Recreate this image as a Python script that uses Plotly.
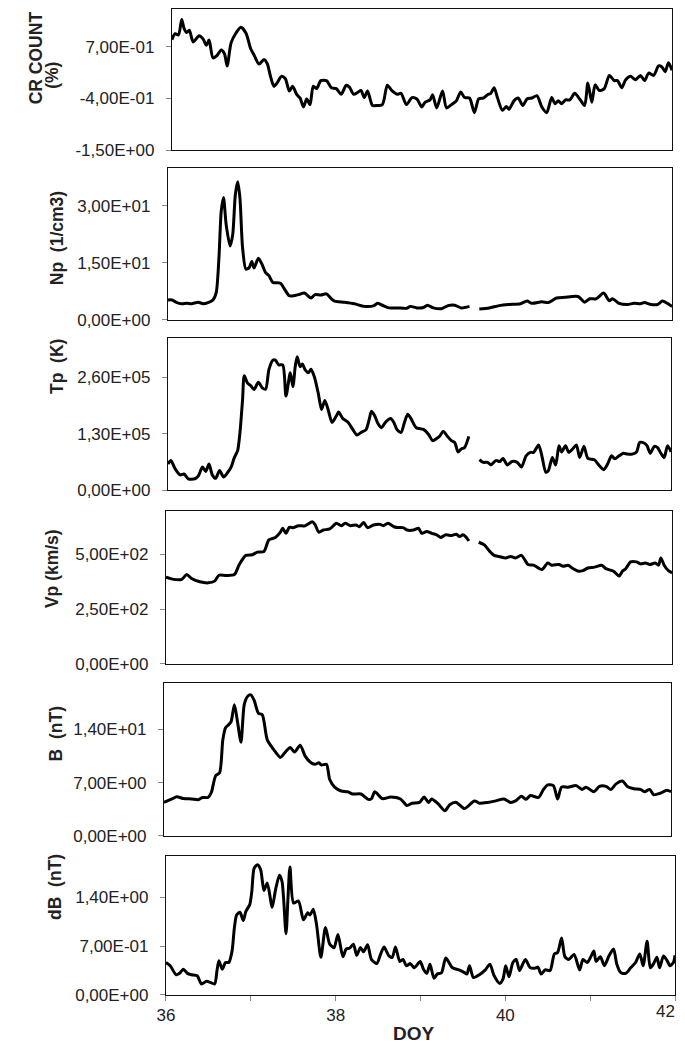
import plotly.graph_objects as go

# ---------------- data (DOY, value) ----------------
cr_doy = [36.000, 36.039, 36.079, 36.118, 36.146, 36.178, 36.209, 36.256, 36.327, 36.375, 36.414, 36.446, 36.493, 36.540, 36.592, 36.631, 36.663, 36.710, 36.769, 36.828, 36.888, 36.947, 36.986, 37.045, 37.105, 37.144, 37.183, 37.223, 37.262, 37.314, 37.361, 37.408, 37.448, 37.499, 37.538, 37.578, 37.617, 37.657, 37.696, 37.736, 37.787, 37.854, 37.913, 37.972, 38.032, 38.091, 38.130, 38.181, 38.229, 38.268, 38.308, 38.347, 38.406, 38.446, 38.525, 38.584, 38.643, 38.702, 38.749, 38.813, 38.880, 38.939, 38.998, 39.037, 39.097, 39.128, 39.176, 39.247, 39.294, 39.353, 39.412, 39.464, 39.511, 39.570, 39.629, 39.680, 39.736, 39.787, 39.826, 39.866, 39.905, 39.964, 40.012, 40.043, 40.103, 40.154, 40.209, 40.260, 40.320, 40.379, 40.438, 40.497, 40.556, 40.596, 40.635, 40.675, 40.722, 40.773, 40.832, 40.892, 40.951, 40.990, 41.037, 41.077, 41.128, 41.187, 41.247, 41.306, 41.345, 41.396, 41.444, 41.503, 41.562, 41.621, 41.669, 41.720, 41.779, 41.838, 41.878, 41.917, 41.957, 42.000]
cr_val = [0.85, 0.975, 0.95, 1.275, 1.09, 1.0, 1.05, 0.80, 0.93, 0.86, 0.73, 0.84, 0.46, 0.51, 0.63, 0.55, 0.29, 0.78, 0.99, 1.11, 0.99, 0.65, 0.52, 0.33, 0.43, 0.34, 0.07, -0.14, -0.07, 0.07, 0.02, -0.24, -0.14, -0.32, -0.39, -0.58, -0.41, -0.53, -0.14, -0.19, -0.02, -0.02, -0.17, -0.19, -0.31, -0.12, -0.16, -0.31, -0.27, -0.23, -0.38, -0.24, -0.55, -0.55, -0.53, -0.12, -0.24, -0.31, -0.29, -0.53, -0.38, -0.41, -0.58, -0.48, -0.43, -0.32, -0.60, -0.24, -0.60, -0.53, -0.45, -0.26, -0.38, -0.39, -0.70, -0.41, -0.39, -0.32, -0.29, -0.17, -0.38, -0.65, -0.57, -0.63, -0.45, -0.39, -0.55, -0.41, -0.39, -0.34, -0.58, -0.70, -0.38, -0.51, -0.45, -0.51, -0.43, -0.43, -0.29, -0.41, -0.55, -0.07, -0.48, -0.11, -0.23, -0.19, 0.09, -0.02, -0.02, -0.17, 0.0, 0.07, 0.0, 0.09, -0.02, 0.14, 0.09, 0.29, 0.27, 0.17, 0.36, 0.2]

np_doy = [36.000, 36.047, 36.106, 36.164, 36.223, 36.282, 36.360, 36.419, 36.477, 36.536, 36.575, 36.607, 36.634, 36.661, 36.693, 36.740, 36.771, 36.802, 36.830, 36.857, 36.888, 36.928, 36.967, 36.998, 37.025, 37.076, 37.123, 37.162, 37.202, 37.249, 37.339, 37.397, 37.444, 37.495, 37.554, 37.624, 37.703, 37.750, 37.820, 37.886, 37.945, 37.984, 38.102, 38.219, 38.337, 38.454, 38.493, 38.552, 38.630, 38.728, 38.845, 38.885, 38.963, 39.041, 39.088, 39.159, 39.256, 39.335, 39.413, 39.491, 39.589, 39.650, 39.706, 39.824, 39.941, 40.059, 40.196, 40.274, 40.333, 40.450, 40.528, 40.626, 40.724, 40.881, 40.959, 41.018, 41.096, 41.186, 41.252, 41.292, 41.370, 41.468, 41.546, 41.624, 41.671, 41.749, 41.828, 41.886, 41.965, 42.000]
np_val = [5.2, 5.2, 4.5, 4.2, 4.3, 4.2, 4.6, 4.2, 4.5, 5.2, 7.2, 16.3, 28.5, 32.2, 25.0, 19.4, 22.4, 32.9, 36.3, 32.0, 19.0, 13.3, 13.7, 15.3, 13.6, 16.2, 14.4, 12.4, 11.6, 9.8, 9.6, 7.7, 6.3, 6.3, 6.6, 7.0, 5.7, 6.6, 6.5, 6.8, 5.5, 4.9, 4.6, 4.2, 3.5, 3.7, 4.3, 3.8, 3.1, 3.1, 3.0, 3.5, 3.1, 3.2, 3.8, 3.1, 2.9, 3.7, 3.8, 3.1, 3.5, None, 2.8, 3.1, 3.7, 4.0, 4.2, 4.9, 4.3, 4.7, 4.5, 5.7, 5.9, 6.1, 4.6, 5.5, 5.5, 7.0, 5.0, 5.5, 4.3, 4.0, 4.3, 4.2, 4.5, 4.0, 4.0, 4.9, 4.0, 3.5]

tp_doy = [36.000, 36.035, 36.086, 36.145, 36.192, 36.243, 36.322, 36.361, 36.412, 36.451, 36.490, 36.529, 36.569, 36.616, 36.663, 36.714, 36.753, 36.792, 36.831, 36.859, 36.890, 36.910, 36.949, 36.988, 37.027, 37.078, 37.125, 37.165, 37.204, 37.251, 37.282, 37.322, 37.369, 37.408, 37.459, 37.490, 37.518, 37.541, 37.576, 37.604, 37.635, 37.675, 37.706, 37.745, 37.792, 37.831, 37.871, 37.910, 37.957, 38.008, 38.035, 38.086, 38.145, 38.204, 38.255, 38.302, 38.361, 38.400, 38.427, 38.467, 38.498, 38.545, 38.596, 38.655, 38.694, 38.733, 38.780, 38.820, 38.859, 38.898, 38.961, 39.047, 39.106, 39.157, 39.204, 39.243, 39.282, 39.329, 39.380, 39.420, 39.459, 39.498, 39.537, 39.588, 39.650, 39.714, 39.761, 39.812, 39.851, 39.910, 39.957, 39.996, 40.047, 40.106, 40.165, 40.216, 40.271, 40.322, 40.361, 40.420, 40.459, 40.506, 40.537, 40.584, 40.624, 40.663, 40.694, 40.741, 40.780, 40.831, 40.871, 40.910, 40.961, 41.008, 41.086, 41.145, 41.196, 41.243, 41.290, 41.329, 41.380, 41.431, 41.478, 41.537, 41.588, 41.627, 41.682, 41.714, 41.753, 41.800, 41.839, 41.878, 41.918, 41.957, 42.000]
tp_val = [60000, 68000, 49000, 35000, 37000, 26000, 26000, 32000, 53000, 43000, 60000, 35000, 27000, 45000, 30000, 41000, 53000, 75000, 91000, 133000, 209000, 264000, 247000, 241000, 232000, 249000, 236000, 233000, 278000, 300000, 300000, 289000, 289000, 217000, 271000, 239000, 285000, 308000, 285000, 291000, 278000, 271000, 279000, 262000, 224000, 186000, 207000, 186000, 156000, 171000, 180000, 165000, 157000, 140000, 127000, 133000, 139000, 163000, 182000, 171000, 156000, 144000, 157000, 165000, 156000, 139000, 133000, 156000, 175000, 165000, 144000, 140000, 129000, 114000, 119000, 125000, 136000, 125000, 114000, 110000, 88000, 95000, 98000, 124000, None, 70000, 64000, 64000, 58000, 68000, 66000, 73000, 58000, 66000, 64000, 53000, 79000, 87000, 87000, 104000, 79000, 41000, 45000, 75000, 58000, 102000, 88000, 102000, 87000, 96000, 104000, 75000, 101000, 73000, 70000, 56000, 47000, 60000, 79000, 72000, 79000, 85000, 83000, 83000, 88000, 110000, 108000, 102000, 85000, 101000, 98000, 85000, 75000, 102000, 88000]

vp_doy = [36.000, 36.090, 36.187, 36.246, 36.304, 36.402, 36.499, 36.577, 36.628, 36.713, 36.811, 36.869, 36.947, 37.025, 37.084, 37.162, 37.220, 37.298, 37.357, 37.384, 37.423, 37.462, 37.513, 37.571, 37.649, 37.735, 37.766, 37.813, 37.864, 37.942, 38.020, 38.078, 38.125, 38.187, 38.253, 38.292, 38.343, 38.390, 38.460, 38.538, 38.577, 38.632, 38.702, 38.741, 38.811, 38.858, 38.936, 38.994, 39.033, 39.092, 39.150, 39.209, 39.255, 39.318, 39.384, 39.442, 39.481, 39.520, 39.552, 39.591, 39.650, 39.708, 39.774, 39.832, 39.891, 39.949, 40.027, 40.086, 40.144, 40.214, 40.292, 40.359, 40.456, 40.526, 40.573, 40.659, 40.709, 40.768, 40.815, 40.893, 40.943, 41.002, 41.080, 41.166, 41.216, 41.306, 41.372, 41.411, 41.450, 41.509, 41.579, 41.626, 41.684, 41.735, 41.801, 41.840, 41.867, 41.906, 41.957, 42.000]
vp_val = [396, 386, 386, 408, 390, 375, 370, 378, 405, 404, 408, 454, 496, 499, 511, 514, 567, 578, 602, 620, 597, 624, 623, 632, 631, 650, 638, 602, 612, 617, 643, 632, 643, 632, 635, 627, 646, 623, 635, 638, 632, 643, 627, 624, 623, 612, 612, 620, 597, 605, 597, 590, 578, 590, 587, 593, 582, 590, 582, 562, None, 556, 544, 517, 496, 491, 484, 491, 484, 496, 454, 451, 431, 461, 451, 454, 446, 451, 438, 423, 426, 438, 442, 451, 435, 423, 401, 423, 435, 466, 466, 457, 461, 454, 461, 451, 484, 451, 426, 416]

b_doy = [36.000, 36.093, 36.152, 36.230, 36.327, 36.405, 36.455, 36.521, 36.560, 36.611, 36.658, 36.696, 36.728, 36.767, 36.794, 36.833, 36.872, 36.911, 36.949, 36.988, 37.027, 37.066, 37.117, 37.163, 37.222, 37.300, 37.377, 37.436, 37.494, 37.545, 37.611, 37.669, 37.728, 37.786, 37.833, 37.864, 37.922, 37.961, 38.019, 38.097, 38.175, 38.233, 38.331, 38.416, 38.455, 38.494, 38.584, 38.681, 38.798, 38.875, 38.934, 39.023, 39.078, 39.128, 39.167, 39.245, 39.323, 39.381, 39.459, 39.556, 39.673, 39.732, 39.829, 39.926, 40.023, 40.101, 40.160, 40.230, 40.284, 40.335, 40.432, 40.490, 40.541, 40.607, 40.658, 40.704, 40.782, 40.879, 40.946, 40.996, 41.086, 41.152, 41.230, 41.288, 41.346, 41.424, 41.482, 41.560, 41.638, 41.685, 41.747, 41.794, 41.872, 41.949, 42.000]
b_val = [4.4, 4.85, 5.15, 4.9, 4.85, 4.75, 5.05, 5.05, 5.7, 7.9, 8.3, 12.6, 14.2, 14.6, 15.0, 17.2, 14.8, 12.3, 17.2, 18.3, 18.5, 17.8, 16.1, 15.9, 12.6, 11.3, 10.3, 11.0, 11.6, 11.0, 11.9, 10.5, 9.7, 9.4, 9.6, 9.3, 9.4, 7.4, 6.4, 5.9, 5.8, 5.5, 5.5, 4.8, 4.9, 5.8, 4.9, 5.1, 4.85, 4.0, 4.3, 4.4, 5.1, 4.4, 4.85, 4.2, 3.3, 4.1, 4.4, 3.6, 4.6, 4.3, 4.4, 4.6, 4.85, 4.4, 4.6, 5.2, 4.8, 5.3, 5.05, 6.1, 6.7, 6.6, 4.85, 6.4, 6.4, 6.6, 6.1, 6.4, 5.8, 6.5, 6.5, 6.1, 6.8, 7.2, 6.5, 6.2, 6.1, 5.8, 6.1, 5.4, 5.6, 6.0, 5.8]

db_doy = [36.000, 36.050, 36.120, 36.159, 36.205, 36.252, 36.302, 36.368, 36.419, 36.477, 36.523, 36.574, 36.601, 36.624, 36.663, 36.702, 36.740, 36.779, 36.806, 36.833, 36.872, 36.911, 36.942, 36.988, 37.012, 37.039, 37.078, 37.116, 37.155, 37.194, 37.252, 37.291, 37.337, 37.368, 37.415, 37.438, 37.461, 37.504, 37.562, 37.620, 37.671, 37.698, 37.736, 37.775, 37.826, 37.880, 37.930, 37.981, 38.027, 38.085, 38.124, 38.163, 38.209, 38.248, 38.291, 38.329, 38.376, 38.422, 38.484, 38.531, 38.570, 38.628, 38.667, 38.705, 38.756, 38.795, 38.833, 38.880, 38.926, 38.996, 39.035, 39.074, 39.112, 39.159, 39.198, 39.248, 39.298, 39.376, 39.453, 39.519, 39.547, 39.578, 39.624, 39.694, 39.764, 39.818, 39.868, 39.934, 39.973, 40.004, 40.043, 40.089, 40.128, 40.167, 40.236, 40.295, 40.353, 40.384, 40.422, 40.469, 40.527, 40.578, 40.616, 40.663, 40.702, 40.748, 40.810, 40.876, 40.915, 40.965, 41.004, 41.043, 41.070, 41.120, 41.167, 41.225, 41.275, 41.314, 41.360, 41.419, 41.477, 41.535, 41.585, 41.624, 41.671, 41.709, 41.748, 41.787, 41.818, 41.864, 41.903, 41.942, 41.981, 42.000]
db_val = [0.466, 0.418, 0.29, 0.31, 0.37, 0.31, 0.29, 0.275, 0.157, 0.195, 0.18, 0.157, 0.347, 0.49, 0.37, 0.466, 0.466, 0.63, 0.96, 1.15, 1.19, 1.07, 1.20, 1.30, 1.49, 1.82, 1.87, 1.80, 1.50, 1.61, 1.26, 1.51, 1.72, 1.63, 0.88, 1.39, 1.84, 1.32, 1.35, 1.08, 1.18, 1.15, 1.23, 1.01, 0.54, 0.97, 0.73, 0.68, 0.87, 0.55, 0.66, 0.67, 0.73, 0.57, 0.68, 0.62, 0.72, 0.51, 0.45, 0.59, 0.69, 0.56, 0.54, 0.69, 0.48, 0.51, 0.42, 0.45, 0.39, 0.48, 0.37, 0.31, 0.44, 0.24, 0.30, 0.32, 0.53, 0.39, 0.36, 0.32, 0.30, 0.42, 0.25, 0.29, 0.36, 0.44, 0.275, 0.166, 0.23, 0.42, 0.26, 0.466, 0.51, 0.35, 0.51, 0.39, 0.385, 0.40, 0.30, 0.36, 0.35, 0.59, 0.61, 0.82, 0.55, 0.51, 0.58, 0.36, 0.51, 0.466, 0.54, 0.63, 0.48, 0.55, 0.42, 0.57, 0.66, 0.44, 0.32, 0.31, 0.39, 0.466, 0.59, 0.42, 0.77, 0.39, 0.45, 0.54, 0.39, 0.56, 0.50, 0.42, 0.466, 0.57]

# axis ranges and tick labels (comma decimal, as in the source)
y_ranges = [[-1.5, 1.5], [0, 40], [0, 350000], [0, 700], [0, 20], [0, 2.0]]
y_tickvals = [[-1.5, -0.4, 0.7], [0, 15, 30], [0, 130000, 260000], [0, 250, 500], [0, 7, 14], [0, 0.7, 1.4]]
y_ticktext = [["-1,50E+00", "-4,00E-01", "7,00E-01"],
              ["0,00E+00", "1,50E+01", "3,00E+01"],
              ["0,00E+00", "1,30E+05", "2,60E+05"],
              ["0,00E+00", "2,50E+02", "5,00E+02"],
              ["0,00E+00", "7,00E+00", "1,40E+01"],
              ["0,00E+00", "7,00E-01", "1,40E+00"]]
x_tickvals = [36, 37, 38, 39, 40, 41, 42]
x_ticktext = ["36", "", "38", "", "40", "", ""]
x_last_label = (42, "42")  # drawn as an annotation so it is not clipped at the page edge

series_x = [cr_doy, np_doy, tp_doy, vp_doy, b_doy, db_doy]
series_y = [cr_val, np_val, tp_val, vp_val, b_val, db_val]
for sx, sy in zip(series_x, series_y):
    assert len(sx) == len(sy), (len(sx), len(sy))

# ---------------- layout geometry ----------------
# The page has the browser's default 8px body margin; the figure is sized so
# that it fits exactly inside the 685x1057 window, and page pixel positions
# measured on the reference are converted to figure fractions.
PAGE_W, PAGE_H = 685, 1057
OFF = 8
W, H = PAGE_W - 2 * OFF, PAGE_H - 2 * OFF


def fx(px):
    return min(max((px - OFF) / W, 0.0), 1.0)


def fy(py):
    return min(max(1 - (py - OFF) / H, 0.0), 1.0)


boxes = [  # left, right, top, bottom  (page pixels)
    (165, 672, 9, 151.7),
    (161, 672, 169.3, 322.7),
    (161, 671, 341.7, 494.7),
    (159, 672, 515.7, 670),
    (157, 671, 690, 844),
    (159, 675, 864, 1004.5),
]

FONT = "Liberation Sans, Arial, sans-serif"
fig = go.Figure()
layout = dict(width=W, height=H, margin=dict(l=0, r=0, t=0, b=0),
              paper_bgcolor="white", plot_bgcolor="white", showlegend=False,
              font=dict(family=FONT, color="#222"))

for i, (sx, sy) in enumerate(zip(series_x, series_y)):
    n = "" if i == 0 else str(i + 1)
    fig.add_trace(go.Scatter(x=sx, y=sy, mode="lines", xaxis="x" + n, yaxis="y" + n,
                             line=dict(color="#000", width=3, shape="spline", smoothing=0.7),
                             connectgaps=False, hoverinfo="skip", cliponaxis=True))
    l, r, t, b = boxes[i]
    last = (i == len(series_x) - 1)
    xa = dict(domain=[fx(l), fx(r)], range=[36, 42], anchor="y" + n,
              showline=True, mirror=True, linecolor="#111", linewidth=1.2,
              showgrid=False, zeroline=False, fixedrange=True)
    if last:
        xa.update(tickmode="array", tickvals=x_tickvals, ticktext=x_ticktext,
                  ticks="outside", ticklen=5, tickcolor="#888", tickwidth=1,
                  tickfont=dict(size=17, family=FONT, color="#222"))
    else:
        xa.update(showticklabels=False, ticks="")
    ya = dict(domain=[fy(b), fy(t)], range=y_ranges[i], anchor="x" + n,
              showline=True, mirror=True, linecolor="#111", linewidth=1.2,
              showgrid=False, zeroline=False, fixedrange=True,
              tickmode="array", tickvals=y_tickvals[i], ticktext=y_ticktext[i],
              ticks="outside", ticklen=5, tickcolor="#888", tickwidth=1,
              ticklabelstandoff=8,
              tickfont=dict(size=17, family=FONT, color="#222"))
    layout["xaxis" + n] = xa
    layout["yaxis" + n] = ya

NB = "\u00a0"
titles = [  # text, x px, y px (page)
    ("CR COUNT", 27, 58),
    ("(%)", 44, 76),
    ("Np" + NB + NB + "(1/cm3)", 48, 240),
    ("Tp" + NB + NB + "(K)", 48, 370),
    ("Vp (km/s)", 43, 574),
    ("B" + NB + NB + "(nT)", 47, 741),
    ("dB" + NB + NB + "(nT)", 47, 895),
]
ann = []
for txt, px, py in titles:
    ann.append(dict(text="<b>" + txt + "</b>", x=fx(px), y=fy(py), xref="paper", yref="paper",
                    xanchor="center", yanchor="middle", textangle=-90, showarrow=False,
                    font=dict(size=17.5, family=FONT, color="#222")))
ann.append(dict(text="<b>DOY</b>", x=fx(410), y=fy(1043), xref="paper", yref="paper",
                xanchor="center", yanchor="middle", showarrow=False,
                font=dict(size=19, family=FONT, color="#222")))
ann.append(dict(text=x_last_label[1], x=x_last_label[0], xref="x6", y=fy(1021), yref="paper",
                xanchor="right", yanchor="middle", xshift=2, showarrow=False,
                font=dict(size=17, family=FONT, color="#222")))
layout["annotations"] = ann

fig.update_layout(**layout)
fig.write_html("out.html")
